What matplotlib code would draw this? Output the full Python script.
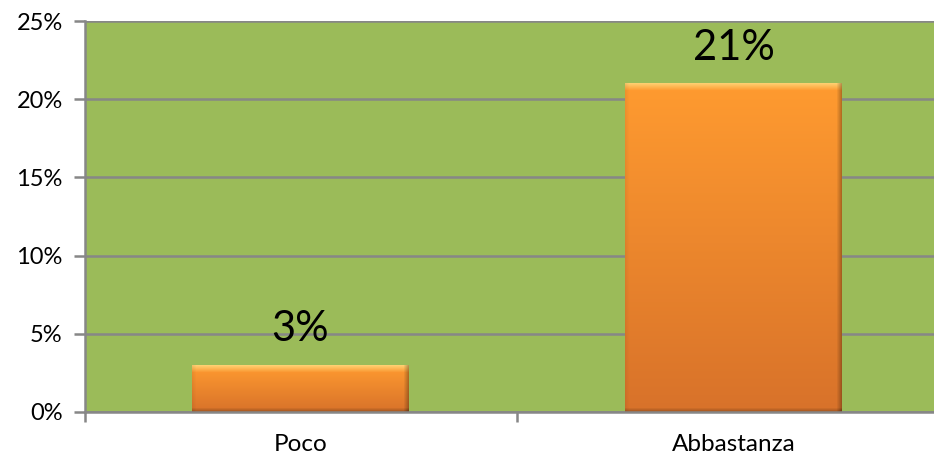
import matplotlib
matplotlib.use("Agg")
import matplotlib.pyplot as plt
import numpy as np
from matplotlib.ticker import FixedLocator, PercentFormatter

categories = ["Poco", "Abbastanza"]
values = [3, 21]
yticks = [0, 5, 10, 15, 20, 25]

plt.rcParams['font.family'] = ['Lato', 'DejaVu Sans']

W, H = 934, 459
step = 433.0
left_px = 85
xl = -0.4977
xr = 1.5
ax_w = (xr - xl) * step
fig = plt.figure(figsize=(W / 100, H / 100), dpi=100)
ax = fig.add_axes([left_px / W, 1 - 412 / H, ax_w / W, (412 - 21) / H])
ax.set_facecolor('#9BBB59')

x = np.arange(len(categories))
bars = ax.bar(x, values, width=0.501, color='none', edgecolor='none', zorder=3)

ax.set_xlim(xl, xr)
ax.set_ylim(0, 25)
ax.set_yticks(yticks)
ax.yaxis.set_major_formatter(PercentFormatter(decimals=0))
ax.yaxis.grid(True, color='#878787', linewidth=1.8, zorder=1)
ax.set_axisbelow(True)

ax.set_xticks(x)
ax.set_xticklabels(categories, fontsize=17.5)
ax.xaxis.set_minor_locator(FixedLocator([xl, 0.5, 1.5]))
ax.tick_params(axis='x', which='major', length=0, pad=16)
ax.tick_params(axis='x', which='minor', length=7, width=1.8, color='#878787')
ax.tick_params(axis='y', length=8, width=1.8, color='#878787', labelsize=17, pad=8)

for s in ['top', 'right']:
    ax.spines[s].set_visible(False)
for s in ['left', 'bottom']:
    ax.spines[s].set_color('#878787')
    ax.spines[s].set_linewidth(1.8)
    ax.spines[s].set_zorder(5)

fig.canvas.draw()

def hex2rgb(h):
    h = h.lstrip('#')
    return np.array([int(h[i:i + 2], 16) / 255 for i in (0, 2, 4)])

top_c = hex2rgb('#FF9B30')
bot_c = hex2rgb('#D8722A')
hl_c = hex2rgb('#FFDC80')

for i, b in enumerate(bars):
    bx, by, bw, bh = b.get_x(), b.get_y(), b.get_width(), b.get_height()
    p0 = ax.transData.transform((bx, by))
    p1 = ax.transData.transform((bx + bw, by + bh))
    pw = max(int(round(p1[0] - p0[0])), 2)
    ph = max(int(round(p1[1] - p0[1])), 2)
    t = np.linspace(0, 1, ph)[:, None]
    base = top_c[None, None, :] * (1 - t[..., None]) + bot_c[None, None, :] * t[..., None]
    img = np.repeat(base, pw, axis=1)
    rows = np.arange(ph)[:, None]
    cols = np.arange(pw)[None, :]
    hl = np.clip(1 - rows / 7.0, 0, 1) * 0.8 * np.ones((1, pw))
    img = img * (1 - hl[..., None]) + hl_c[None, None, :] * hl[..., None]
    dr = np.clip(1 - (pw - 1 - cols) / 5.0, 0, 1) * 0.28
    db = np.clip(1 - (ph - 1 - rows) / 4.0, 0, 1) * 0.25
    dl = np.clip(1 - cols / 4.0, 0, 1) * 0.06
    dark = np.clip(dr + db + dl, 0, 0.45)
    img = img * (1 - dark[..., None])
    ax.imshow(img, extent=(bx, bx + bw, by, by + bh), aspect='auto',
              interpolation='bilinear', zorder=3, origin='upper')
    ax.annotate(f"{values[i]}%", (bx + bw / 2, by + bh),
                xytext=(0, 12), textcoords='offset points', ha='center', va='bottom',
                fontsize=30, color='black', zorder=6)

ax.set_xlim(xl, xr)
ax.set_ylim(0, 25)

fig.savefig('out.png', dpi=100)
